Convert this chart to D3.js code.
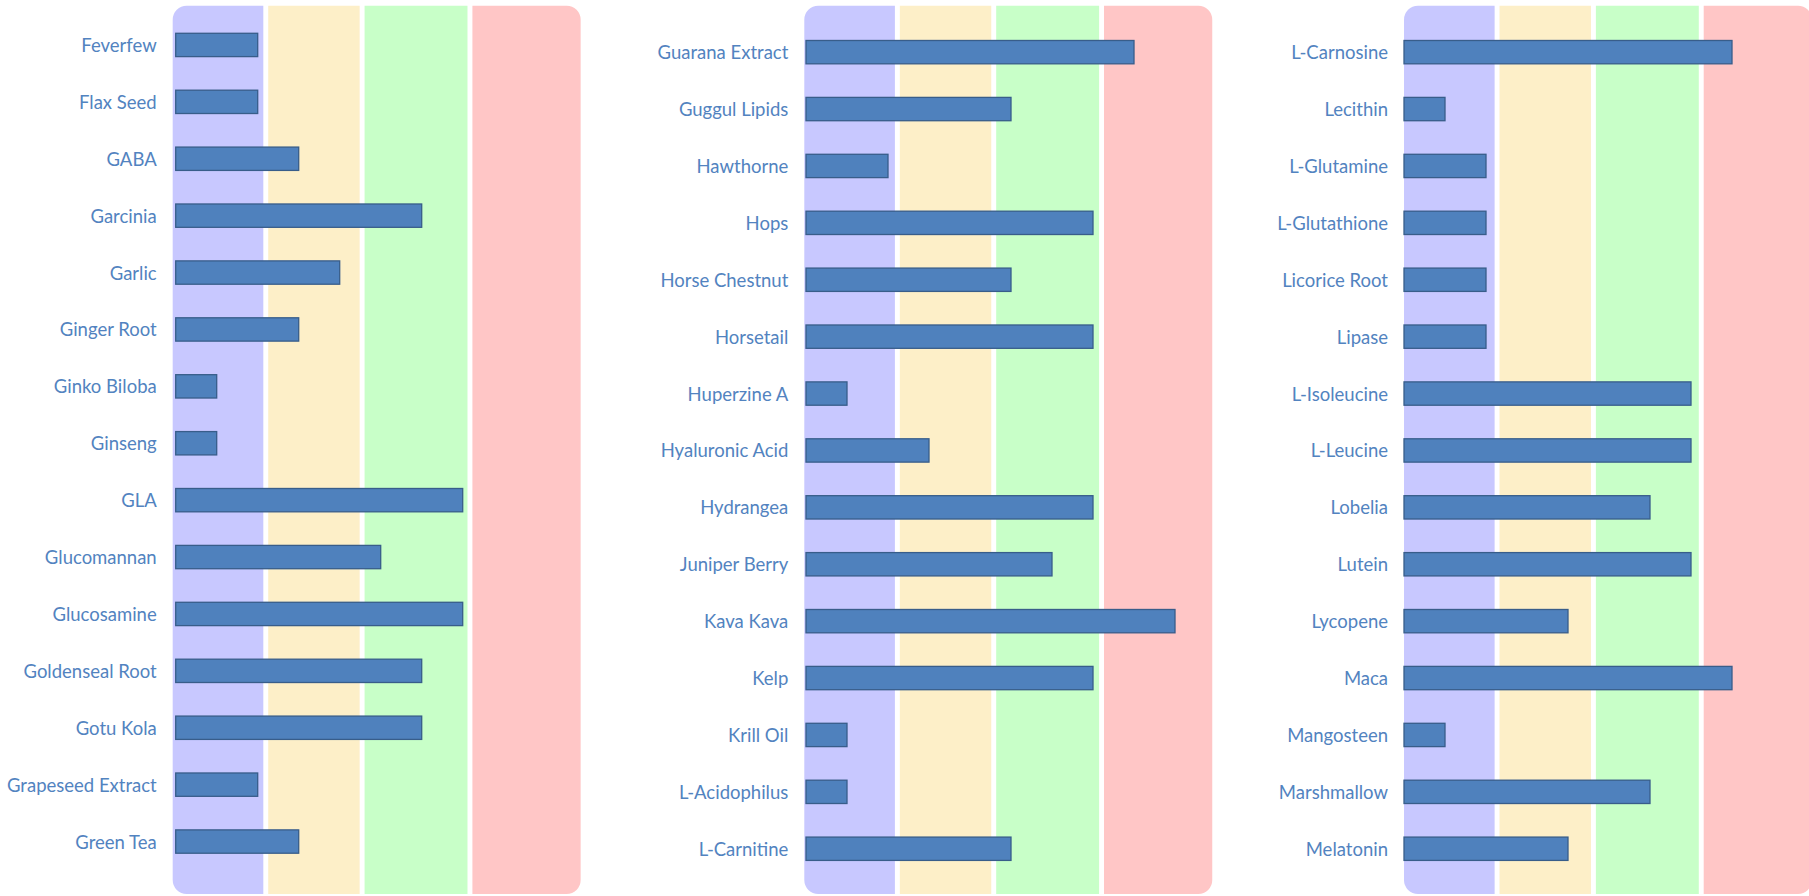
<!DOCTYPE html>
<html>
<head>
<meta charset="utf-8">
<script src="https://cdn.jsdelivr.net/npm/d3@7"></script>
<style>
  html, body { margin: 0; padding: 0; background: #ffffff; }
  svg { display: block; }
</style>
</head>
<body>
<svg id="chart" width="1809" height="896"></svg>
<script>
// ---- DATA ----
const categories1 = ["Feverfew","Flax Seed","GABA","Garcinia","Garlic","Ginger Root","Ginko Biloba","Ginseng","GLA","Glucomannan","Glucosamine","Goldenseal Root","Gotu Kola","Grapeseed Extract","Green Tea"];
const values1     = [2,2,3,6,4,3,1,1,7,5,7,6,6,2,3];

const categories2 = ["Guarana Extract","Guggul Lipids","Hawthorne","Hops","Horse Chestnut","Horsetail","Huperzine A","Hyaluronic Acid","Hydrangea","Juniper Berry","Kava Kava","Kelp","Krill Oil","L-Acidophilus","L-Carnitine"];
const values2     = [8,5,2,7,5,7,1,3,7,6,9,7,1,1,5];

const categories3 = ["L-Carnosine","Lecithin","L-Glutamine","L-Glutathione","Licorice Root","Lipase","L-Isoleucine","L-Leucine","Lobelia","Lutein","Lycopene","Maca","Mangosteen","Marshmallow","Melatonin"];
const values3     = [8,1,2,2,2,2,7,7,6,7,4,8,1,6,4];

// background zones, in value units from the zone origin
const zoneStarts = [0, 2.33, 4.68, 7.31];
const zoneEnds   = [2.21, 4.56, 7.19, 9.95];
const zoneColors = ["#c8c8ff", "#fdefc8", "#c8ffc8", "#ffc6c6"];

// ---- LAYOUT ----
const panels = [
  { cats: categories1, vals: values1, zoneLeft: 172.7, barLeft: 175.7, yTop: 16.5 },
  { cats: categories2, vals: values2, zoneLeft: 804.3, barLeft: 806,   yTop: 23.7 },
  { cats: categories3, vals: values3, zoneLeft: 1404,  barLeft: 1404,  yTop: 23.7 }
];
const unit = 41.0;
const step = 56.9;
const zoneTop = 5.7, zoneBottom = 894;
const radius = 14;

const svg = d3.select("#chart");

function roundedRectPath(x0, y0, x1, y1, rl, rr) {
  const p = d3.path();
  p.moveTo(x0 + rl, y0);
  p.lineTo(x1 - rr, y0);
  if (rr) p.arcTo(x1, y0, x1, y0 + rr, rr);
  p.lineTo(x1, y1 - rr);
  if (rr) p.arcTo(x1, y1, x1 - rr, y1, rr);
  p.lineTo(x0 + rl, y1);
  if (rl) p.arcTo(x0, y1, x0, y1 - rl, rl);
  p.lineTo(x0, y0 + rl);
  if (rl) p.arcTo(x0, y0, x0 + rl, y0, rl);
  p.closePath();
  return p.toString();
}

panels.forEach(pn => {
  const g = svg.append("g");
  const x = d3.scaleLinear().domain([0, 10]).range([pn.barLeft, pn.barLeft + unit * 10]);
  const xz = d3.scaleLinear().domain([0, 10]).range([pn.zoneLeft, pn.zoneLeft + unit * 10]);
  const y = d3.scaleBand().domain(pn.cats)
    .range([pn.yTop, pn.yTop + step * pn.cats.length])
    .paddingInner(0.59).paddingOuter(0.295);

  // zones
  g.selectAll("path.zone").data(zoneStarts).join("path")
    .attr("class", "zone")
    .attr("fill", (d, i) => zoneColors[i])
    .attr("d", (d, i) => roundedRectPath(
      xz(d), zoneTop, xz(zoneEnds[i]), zoneBottom,
      i === 0 ? radius : 0,
      i === zoneStarts.length - 1 ? radius : 0));

  // bars
  g.selectAll("rect.bar").data(pn.vals).join("rect")
    .attr("class", "bar")
    .attr("x", x(0))
    .attr("y", (d, i) => y(pn.cats[i]))
    .attr("width", d => x(d) - x(0))
    .attr("height", y.bandwidth())
    .attr("fill", "#4f81bd")
    .attr("stroke", "#385d8a")
    .attr("stroke-width", 1.3);

  // category labels
  const axis = d3.axisLeft(y).tickSize(0).tickPadding(0);
  const ax = g.append("g")
    .attr("transform", `translate(${pn.zoneLeft - 16},0)`)
    .call(axis);
  ax.select(".domain").remove();
  ax.selectAll("text")
    .attr("fill", "#5283c0")
    .style("font-family", "Lato, 'Open Sans', sans-serif")
    .style("font-size", "18.5px")
    .attr("dy", "0.38em");
});
</script>
</body>
</html>
